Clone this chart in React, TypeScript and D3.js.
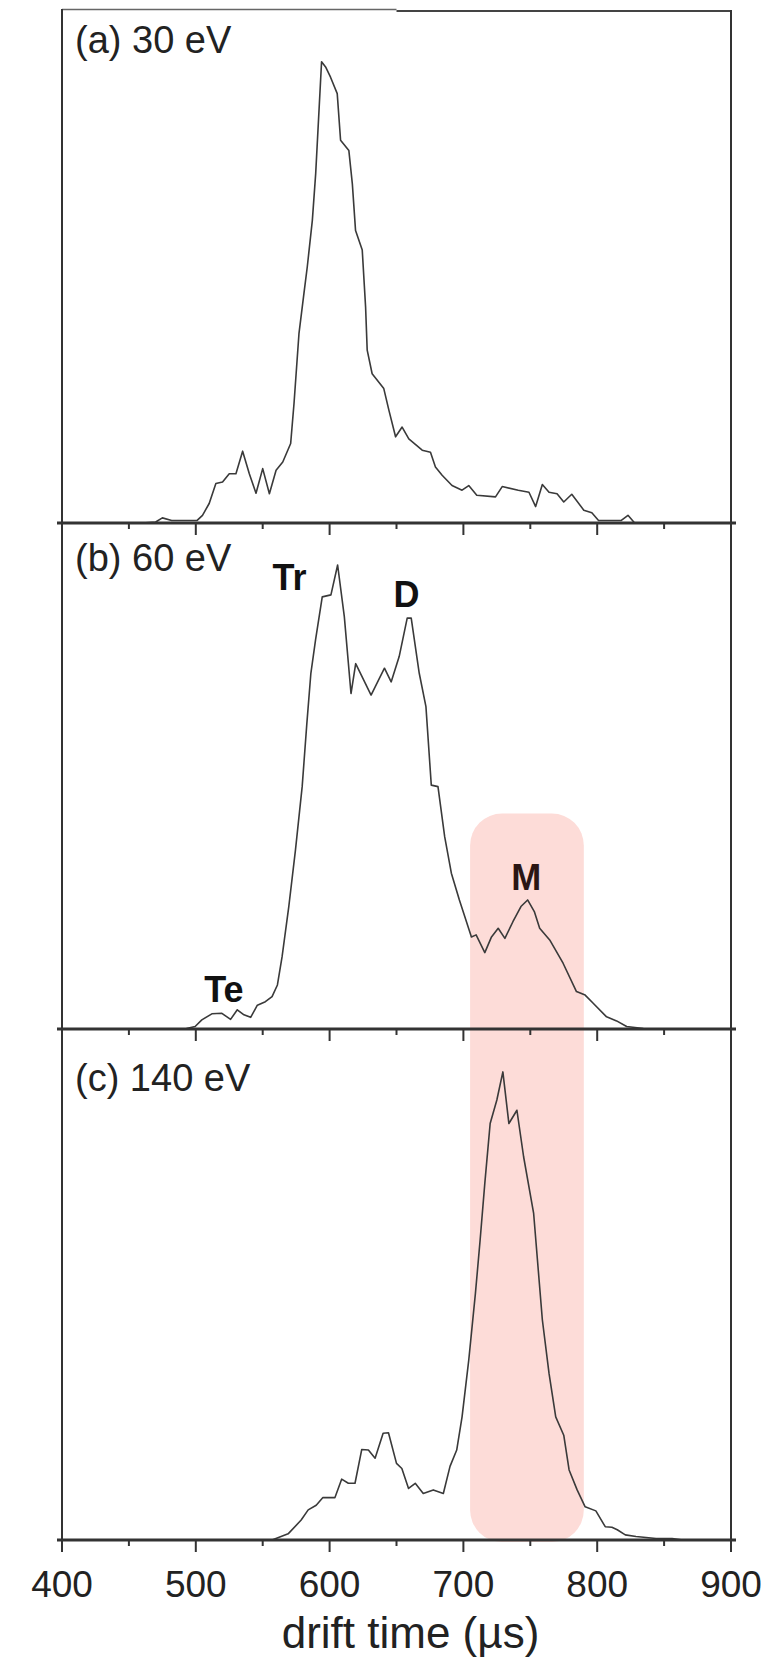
import React from 'react';
import * as d3 from 'd3';

// ---------- data (drift time in µs, intensity in arbitrary units, 0..100 = panel height) ----------
const panelLabels = ['(a) 30 eV', '(b) 60 eV', '(c) 140 eV'];

const timesA = [460, 470, 475, 482, 492, 501, 505, 510, 515, 520, 525, 530, 535, 540, 545, 550, 555, 560, 565, 570.9, 573.4, 577.1, 580.8, 583.3, 587.1, 589.6, 594, 597, 600.7, 605.7, 608.2, 614.4, 617, 619.4, 624.4, 626.9, 628.1, 631.8, 640.5, 644.3, 649.3, 654.2, 659.2, 669.2, 675.4, 679.1, 684.1, 691.5, 699, 704, 710, 724, 729, 741, 749, 754, 759, 764, 770, 775, 781, 790, 796, 801, 811, 818, 823, 828, 850, 880, 900];
const valuesA = [0, 0.2, 1.0, 0.5, 0.5, 0.5, 1.5, 3.8, 7.7, 8.0, 9.6, 9.6, 14.0, 9.6, 5.8, 10.6, 5.7, 10.3, 11.9, 15.5, 23.3, 36.9, 44.7, 49.9, 59.0, 68.1, 89.9, 88.9, 86.9, 83.7, 74.6, 72.6, 66.1, 57.0, 53.2, 42.1, 33.7, 29.1, 26.2, 22.0, 16.8, 18.7, 16.4, 14.2, 13.8, 10.9, 9.3, 7.3, 6.4, 7.3, 5.4, 5.1, 7.1, 6.4, 6.0, 3.2, 7.5, 6.0, 5.7, 4.1, 5.6, 2.5, 2.0, 0.5, 0.5, 0.5, 1.5, 0, 0, 0, 0];

const timesB = [485, 493, 499.5, 504.5, 512, 519.5, 526, 531, 536, 541, 546, 552, 557, 561, 564.5, 569.5, 574.5, 579.5, 583, 586, 589.5, 594.5, 601, 606, 611, 616, 619.5, 631, 641, 646, 652, 658, 661, 667, 672, 676, 681, 686, 691, 697, 706, 709.5, 716, 721, 726, 731, 737, 743, 748, 753, 757, 764.5, 774.5, 784.5, 791, 797, 807, 814.5, 822, 834.5, 860, 880];
const valuesB = [0, 0.1, 0.5, 1.8, 3.0, 3.1, 1.9, 3.8, 2.8, 2.3, 4.7, 5.4, 6.4, 8.7, 14.3, 24.2, 35.4, 47.9, 60.4, 70.3, 76.9, 85.4, 85.8, 91.7, 81.5, 66.3, 72.2, 66.0, 71.3, 68.6, 73.6, 81.2, 81.2, 70.3, 63.7, 48.2, 47.9, 38.0, 30.8, 25.5, 18.2, 18.6, 15.1, 18.2, 19.9, 17.9, 21.2, 24.2, 25.5, 23.2, 19.9, 17.6, 13.0, 7.4, 6.7, 5.1, 2.4, 1.6, 0.5, 0.1, 0, 0];

const timesC = [550, 557, 569, 578.75, 584, 590, 595, 604, 609, 614, 619, 624, 629, 634, 640, 644, 650, 654, 659, 664, 670, 677.5, 685, 690, 695, 699, 704, 709, 712.5, 716, 720, 725, 729.5, 734, 740, 745, 752.5, 759, 764, 769, 775, 779, 785, 791, 799, 806, 811, 815, 821, 829, 844, 856, 864, 880];
const valuesC = [0, 0, 1.2, 3.9, 5.9, 6.8, 8.3, 8.3, 11.9, 11.1, 11.1, 17.7, 17.6, 16.0, 20.9, 21.0, 15.0, 14.0, 10.1, 11.1, 9.1, 9.8, 9.1, 14.4, 17.6, 24.1, 35.2, 48.3, 58.7, 69.8, 81.5, 86.1, 91.6, 81.5, 84.1, 75.0, 63.9, 43.1, 32.6, 24.1, 20.5, 13.7, 9.8, 6.5, 5.7, 2.6, 2.5, 2.0, 1.0, 0.7, 0.3, 0.3, 0, 0];

const majorTicks = [400, 500, 600, 700, 800, 900];
const minorTicks = [450, 550, 650, 750, 850];

// peak annotations (panel b) in data units
const peakNames = ['Tr', 'D', 'M', 'Te'];
const peakTimes = [570, 657.5, 747, 521];
const peakLevels = [86.8, 83.4, 27.5, 5.3];

// highlighted monomer window
const bandStart = 705;
const bandEnd = 790;
const bandTopLevel = 42.6;

const xTitle = 'drift time (\u00b5s)';

export default function App() {
  const W = 782;
  const H = 1658;
  const x = d3.scaleLinear().domain([400, 900]).range([62, 731]);

  const panels = [
    { top: 10, base: 523, t: timesA, v: valuesA, labelDy: 43 },
    { top: 523, base: 1029, t: timesB, v: valuesB, labelDy: 48 },
    { top: 1029, base: 1540, t: timesC, v: valuesC, labelDy: 62 },
  ];
  const ys = panels.map((p) => d3.scaleLinear().domain([0, 100]).range([p.base, p.top]));

  const font = "'Liberation Sans', Arial, Helvetica, sans-serif";
  const axisColor = '#333';
  const lineColor = '#3a3a3a';

  const bandX0 = x(bandStart);
  const bandX1 = x(bandEnd);
  const bandY0 = ys[1](bandTopLevel);
  const bandY1 = panels[2].base + 2;

  return (
    <svg
      width={W}
      height={H}
      viewBox={`0 0 ${W} ${H}`}
      style={{ position: 'absolute', left: 0, top: 0, background: '#fff' }}
    >
      <rect x={0} y={0} width={W} height={H} fill="#fff" />
      {/* highlight band */}
      <rect
        x={bandX0}
        y={bandY0}
        width={bandX1 - bandX0}
        height={bandY1 - bandY0}
        rx={32}
        ry={32}
        fill="#fddcd8"
      />
      {/* top border (two pieces, as in the original scan) */}
      <line x1={x(400)} x2={x(650)} y1={9.5} y2={9.5} stroke="#666" strokeWidth={1.6} />
      <line x1={x(650)} x2={x(900)} y1={11} y2={11} stroke="#444" strokeWidth={2.2} />
      {panels.map((p, i) => {
        const y = ys[i];
        const line = d3
          .line<number>()
          .x((_, k) => x(p.t[k]))
          .y((d) => y(d))
          .curve(d3.curveLinear);
        return (
          <g key={i}>
            {/* side borders */}
            <line x1={x(400)} x2={x(400)} y1={i === 0 ? 9 : p.top} y2={p.base} stroke={axisColor} strokeWidth={2} />
            <line x1={x(900)} x2={x(900)} y1={i === 0 ? 10 : p.top} y2={p.base} stroke={axisColor} strokeWidth={2} />
            {/* data */}
            <path d={line(p.v) || ''} fill="none" stroke={lineColor} strokeWidth={1.6} strokeLinejoin="round" />
            {/* bottom axis */}
            <line x1={x(400) - 5} x2={x(900) + 5} y1={p.base} y2={p.base} stroke={axisColor} strokeWidth={3} />
            {majorTicks.map((t) => (
              <line key={'M' + t} x1={x(t)} x2={x(t)} y1={p.base} y2={p.base + 12} stroke={axisColor} strokeWidth={2} />
            ))}
            {minorTicks.map((t) => (
              <line key={'m' + t} x1={x(t)} x2={x(t)} y1={p.base} y2={p.base + 6} stroke={axisColor} strokeWidth={2} />
            ))}
            <text x={75} y={p.top + p.labelDy} fontFamily={font} fontSize={38} fill="#222">
              {panelLabels[i]}
            </text>
          </g>
        );
      })}
      {/* peak labels */}
      {peakNames.map((n, i) => (
        <text
          key={n}
          x={x(peakTimes[i])}
          y={ys[1](peakLevels[i])}
          fontFamily={font}
          fontSize={36}
          fontWeight="bold"
          textAnchor="middle"
          fill={n === 'M' ? '#2a1614' : '#111'}
        >
          {n}
        </text>
      ))}
      {/* tick labels */}
      {majorTicks.map((t) => (
        <text key={'l' + t} x={x(t)} y={1597} fontFamily={font} fontSize={37} textAnchor="middle" fill="#222">
          {t}
        </text>
      ))}
      <text x={(x(400) + x(900)) / 2 + 14} y={1648} fontFamily={font} fontSize={44} textAnchor="middle" fill="#222">
        {xTitle}
      </text>
    </svg>
  );
}
